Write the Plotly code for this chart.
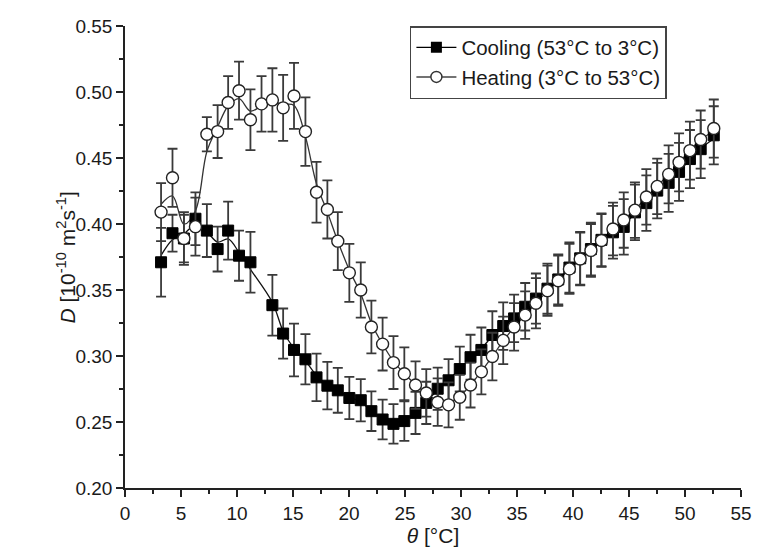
import numpy as np
import plotly.graph_objects as go

# ---------------- data ----------------
heat_x = [3.22, 4.24, 5.26, 6.29, 7.31, 8.27, 9.21, 10.18, 11.2, 12.19, 13.16, 14.12, 15.09, 16.11,
          17.1, 18.07, 19.0, 20.03, 21.05, 22.0, 23.0, 23.97, 24.94, 25.94, 26.9, 27.92, 28.89,
          29.89, 30.85, 31.82, 32.8, 33.77, 34.74, 35.73, 36.69, 37.72, 38.68, 39.68, 40.64,
          41.6, 42.54, 43.57, 44.53, 45.53, 46.55, 47.52, 48.54, 49.47, 50.44, 51.4, 52.57]
heat_y = [0.409, 0.435, 0.389, 0.398, 0.468, 0.470, 0.492, 0.501, 0.479, 0.491, 0.494, 0.488,
          0.497, 0.470, 0.424, 0.411, 0.387, 0.363, 0.350, 0.322, 0.309, 0.295, 0.2865, 0.278,
          0.272, 0.265, 0.263, 0.2687, 0.278, 0.288, 0.2996, 0.3118, 0.322, 0.331, 0.340, 0.3495,
          0.357, 0.366, 0.3735, 0.380, 0.3875, 0.3962, 0.403, 0.4105, 0.4205, 0.4285, 0.4376,
          0.4467, 0.4556, 0.464, 0.4723]
heat_err = [0.022, 0.022, 0.020, 0.022, 0.013, 0.020, 0.020, 0.022, 0.023, 0.021, 0.024, 0.025,
            0.025, 0.026, 0.023, 0.022, 0.022, 0.022, 0.021, 0.020, 0.020, 0.020, 0.020, 0.018,
            0.018, 0.018, 0.017, 0.017, 0.017, 0.017, 0.018, 0.018, 0.018, 0.018, 0.019, 0.019,
            0.019, 0.019, 0.020, 0.020, 0.020, 0.020, 0.021, 0.021, 0.021, 0.021, 0.022, 0.022,
            0.022, 0.022, 0.022]

cool_x = [3.22, 4.24, 5.26, 6.29, 7.31, 8.27, 9.21, 10.18, 11.2, 13.16, 14.12, 15.09, 16.11,
          17.1, 18.07, 19.0, 20.03, 21.05, 22.0, 23.0, 23.97, 24.94, 25.94, 26.9, 27.92, 28.89,
          29.89, 30.85, 31.82, 32.8, 33.77, 34.74, 35.73, 36.69, 37.72, 38.68, 39.68, 40.64,
          41.6, 42.54, 43.57, 44.53, 45.53, 46.55, 47.52, 48.54, 49.47, 50.44, 51.4, 52.57]
cool_y = [0.371, 0.393, 0.389, 0.404, 0.395, 0.381, 0.395, 0.376, 0.371, 0.3385, 0.317, 0.3046,
          0.2975, 0.2838, 0.2775, 0.274, 0.2682, 0.2665, 0.2582, 0.2519, 0.2486, 0.2507, 0.2569,
          0.2645, 0.2752, 0.2816, 0.2901, 0.2991, 0.3046, 0.3159, 0.3227, 0.3285, 0.3373, 0.3435,
          0.351, 0.358, 0.367, 0.374, 0.381, 0.388, 0.3937, 0.3978, 0.4088, 0.4158, 0.4253,
          0.4312, 0.4395, 0.4492, 0.4567, 0.4672]
cool_err = [0.026, 0.014, 0.018, 0.020, 0.020, 0.017, 0.022, 0.019, 0.023, 0.023, 0.019, 0.020,
            0.019, 0.018, 0.018, 0.017, 0.016, 0.016, 0.015, 0.015, 0.015, 0.015, 0.016, 0.016,
            0.016, 0.016, 0.017, 0.017, 0.017, 0.018, 0.018, 0.018, 0.018, 0.019, 0.019, 0.019,
            0.019, 0.020, 0.020, 0.020, 0.020, 0.021, 0.021, 0.021, 0.021, 0.022, 0.022, 0.022,
            0.022, 0.022]

x_ticks = [0, 5, 10, 15, 20, 25, 30, 35, 40, 45, 50, 55]
y_ticks = [0.20, 0.25, 0.30, 0.35, 0.40, 0.45, 0.50, 0.55]
names = ["Cooling (53°C to 3°C)", "Heating (3°C to 53°C)"]
y_title = "<i>D</i> [10<sup>-10</sup> m<sup>2</sup>s<sup>-1</sup>]"
x_title = "<i>θ</i> [°C]"


def smooth(y, sigma=0.65):
    y = np.asarray(y, float)
    n = len(y)
    idx = np.arange(n)
    out = np.empty(n)
    for i in range(n):
        w = np.exp(-0.5 * ((idx - i) / sigma) ** 2)
        out[i] = np.sum(w * y) / np.sum(w)
    return out


fig = go.Figure()

err_col = "#3a3a3a"
# smooth fit lines
fig.add_trace(go.Scatter(x=cool_x, y=smooth(cool_y), mode="lines", line=dict(color="#111", width=1.3, shape="spline"),
                         showlegend=False, hoverinfo="skip"))
fig.add_trace(go.Scatter(x=heat_x, y=smooth(heat_y), mode="lines", line=dict(color="#333", width=1.3, shape="spline"),
                         showlegend=False, hoverinfo="skip"))
# data with error bars
fig.add_trace(go.Scatter(x=cool_x, y=cool_y, mode="markers",
                         marker=dict(symbol="square", size=11, color="#000", line=dict(color="#000", width=1)),
                         error_y=dict(type="data", array=cool_err, color=err_col, thickness=1.8, width=5),
                         showlegend=False))
fig.add_trace(go.Scatter(x=heat_x, y=heat_y, mode="markers",
                         marker=dict(symbol="circle", size=12, color="white", line=dict(color="#222", width=1.4)),
                         error_y=dict(type="data", array=heat_err, color=err_col, thickness=1.8, width=5),
                         showlegend=False))
# legend entries
fig.add_trace(go.Scatter(x=[None], y=[None], mode="lines+markers", name=names[0],
                         marker=dict(symbol="square", size=11, color="#000"), line=dict(color="#000", width=1.3)))
fig.add_trace(go.Scatter(x=[None], y=[None], mode="lines+markers", name=names[1],
                         marker=dict(symbol="circle", size=11, color="white", line=dict(color="#333", width=1.4)),
                         line=dict(color="#444", width=1.3)))

font = "Liberation Sans, Arial, sans-serif"
fig.update_layout(
    width=764, height=551,
    margin=dict(l=125, r=12, t=26, b=60),
    paper_bgcolor="white", plot_bgcolor="white",
    font=dict(family=font, size=19, color="#1a1a1a"),
    legend=dict(x=0.4625, y=1.0, xanchor="left", yanchor="top", bordercolor="#444", borderwidth=1.5,
                bgcolor="white", font=dict(size=20.5), tracegroupgap=0, itemwidth=40),
    xaxis=dict(range=[0, 55], tickvals=x_ticks, ticktext=[str(v) for v in x_ticks],
               showgrid=False, zeroline=False, showline=True, linecolor="#222", linewidth=1.5,
               ticks="outside", ticklen=7, tickwidth=1.5, tickcolor="#222",
               minor=dict(dtick=2.5, ticks="outside", ticklen=4, tickwidth=1.5, tickcolor="#222", showgrid=False),
               title=dict(text=x_title, standoff=1, font=dict(size=21))),
    yaxis=dict(range=[0.20, 0.55], tickvals=y_ticks, ticktext=[f"{v:.2f}" for v in y_ticks],
               showgrid=False, zeroline=False, showline=True, linecolor="#222", linewidth=1.5,
               ticks="outside", ticklen=7, tickwidth=1.5, tickcolor="#222",
               minor=dict(dtick=0.025, ticks="outside", ticklen=4, tickwidth=1.5, tickcolor="#222", showgrid=False)),
    annotations=[dict(text=y_title, xref="paper", yref="paper", x=-0.095, y=0.5, xanchor="center",
                      yanchor="middle", textangle=-90, showarrow=False, font=dict(size=21))],
)

fig.write_html("out.html")
